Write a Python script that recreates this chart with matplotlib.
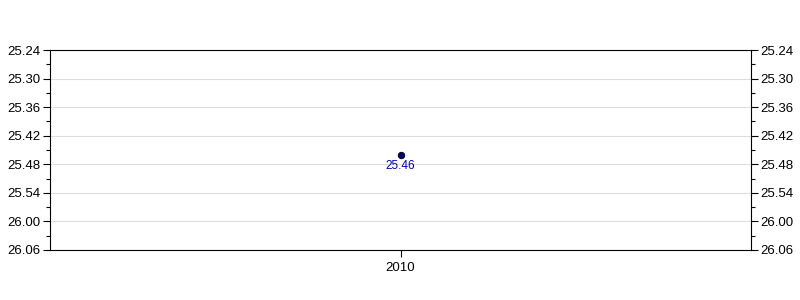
import numpy as np
import matplotlib
matplotlib.use('Agg')
import matplotlib.pyplot as plt
from matplotlib.ticker import MultipleLocator, FuncFormatter

plt.rcParams['font.family'] = ['Liberation Sans', 'DejaVu Sans']

# data: times as minutes.seconds
years = ['2010']
times = ['25.46']

def to_sec(t):
    m, s = t.split('.')
    return int(m) * 60 + int(s)

def fmt(v, pos=None):
    v = int(round(v))
    return '%d.%02d' % (v // 60, v % 60)

secs = [to_sec(t) for t in times]
x = np.arange(len(years))

fig = plt.figure(figsize=(8, 3), dpi=100)
ax = fig.add_axes([0.0625, 0.1667, 0.87625, 0.6666])

ax.set_xlim(-0.5, len(years) - 0.5)
ax.set_ylim(to_sec('26.06'), to_sec('25.24'))

ax.yaxis.set_major_locator(MultipleLocator(6))
ax.yaxis.set_minor_locator(MultipleLocator(3))
ax.yaxis.set_major_formatter(FuncFormatter(fmt))
ax.set_xticks(x)
ax.set_xticklabels(years)

ax.grid(axis='y', which='major', color='#dddddd', linewidth=0.8)
ax.set_axisbelow(True)

ax.tick_params(axis='y', which='both', left=True, right=True,
               labelleft=True, labelright=True, labelsize=9.5, length=5, width=0.8, pad=2)
ax.tick_params(axis='y', which='minor', length=3)
ax.tick_params(axis='x', labelsize=9.5, length=5, width=0.8)

for sp in ax.spines.values():
    sp.set_linewidth(0.8)

ax.scatter(x, secs, s=22, color='#000080', edgecolor='black', linewidth=0.6, zorder=3)
for xi, si, t in zip(x, secs, times):
    ax.annotate(t, (xi, si), xytext=(0, -4), textcoords='offset points',
                ha='center', va='top', color='#0000cc', fontsize=8.5)

fig.savefig('out.png', dpi=100)
